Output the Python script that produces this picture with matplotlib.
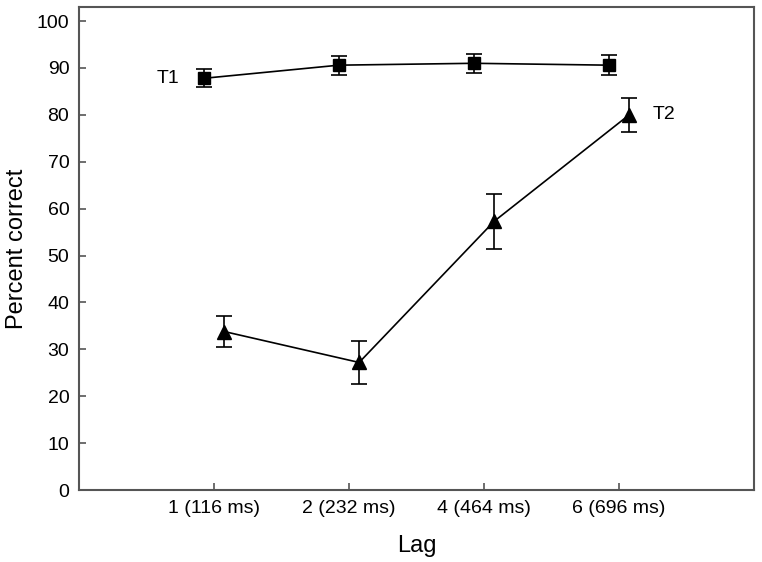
import numpy as np
import matplotlib.pyplot as plt

plt.rcParams['font.family'] = ['Liberation Sans', 'DejaVu Sans']

lag_labels = ['1 (116 ms)', '2 (232 ms)', '4 (464 ms)', '6 (696 ms)']
t1_mean = [87.8, 90.6, 91.0, 90.6]
t1_err = [1.9, 2.0, 2.0, 2.1]
t2_mean = [33.8, 27.2, 57.3, 80.0]
t2_err = [3.3, 4.6, 5.8, 3.6]

x = np.arange(1, len(lag_labels) + 1)
shift = 0.075

fig = plt.figure(figsize=(7.62, 5.62), dpi=100)
ax = fig.add_axes([0.1037, 0.1281, 0.8858, 0.8594])

ax.errorbar(x - shift, t1_mean, yerr=t1_err, color='black', marker='s',
            markersize=9, linewidth=1.2, elinewidth=1.2, capsize=6, capthick=1.2)
ax.errorbar(x + shift, t2_mean, yerr=t2_err, color='black', marker='^',
            markersize=10, linewidth=1.2, elinewidth=1.2, capsize=6, capthick=1.2)

ax.annotate('T1', (x[0] - shift, t1_mean[0]), xytext=(-26, 0),
            textcoords='offset points', ha='center', va='center', fontsize=14)
ax.annotate('T2', (x[-1] + shift, t2_mean[-1]), xytext=(25, 0),
            textcoords='offset points', ha='center', va='center', fontsize=14)

ax.set_xlim(0, 5)
ax.set_ylim(0, 103)
ax.set_xticks(x)
ax.set_xticklabels(lag_labels)
ax.set_yticks(np.arange(0, 101, 10))
ax.tick_params(direction='in', length=5, width=1.2, color='#555555',
               labelsize=14, pad=7)
for s in ax.spines.values():
    s.set_color('#555555')
    s.set_linewidth(1.5)

ax.set_xlabel('Lag', fontsize=17, labelpad=13)
ax.set_ylabel('Percent correct', fontsize=17, labelpad=6)

fig.savefig('out.png', dpi=100)
